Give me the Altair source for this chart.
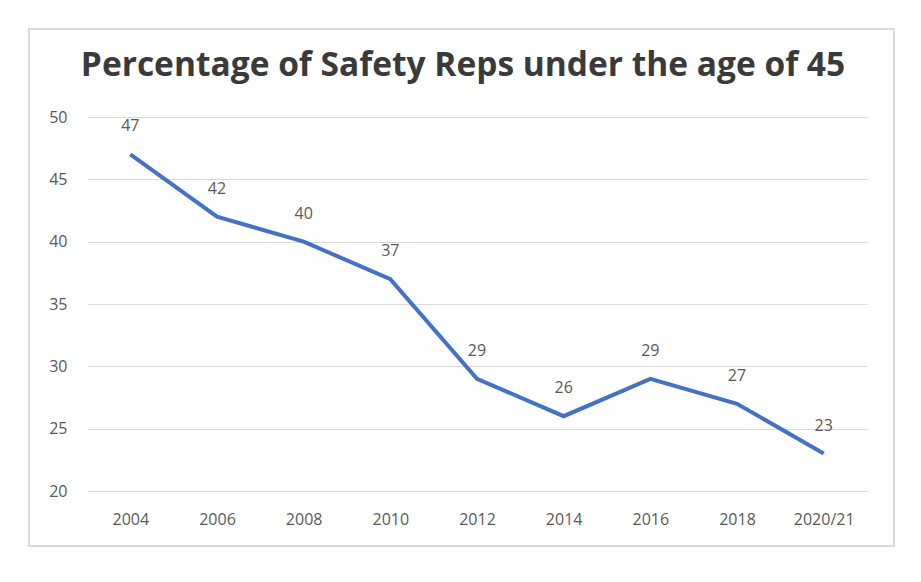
import altair as alt
import pandas as pd

years = ["2004", "2006", "2008", "2010", "2012", "2014", "2016", "2018", "2020/21"]
pct = [47, 42, 40, 37, 29, 26, 29, 27, 23]

df = pd.DataFrame({"year": years, "pct": pct})

GREY = "#595959"

x = alt.X(
    "year:N",
    sort=years,
    title=None,
    scale=alt.Scale(paddingInner=0, paddingOuter=0.5),
    axis=alt.Axis(labelAngle=0, labelFontSize=16, labelColor=GREY, labelPadding=20,
                  ticks=False, domain=False, labelFont="Open Sans"),
)
y = alt.Y(
    "pct:Q",
    title=None,
    scale=alt.Scale(domain=[20, 50], nice=False),
    axis=alt.Axis(values=[20, 25, 30, 35, 40, 45, 50], labelFontSize=16, labelColor=GREY,
                  labelPadding=20, ticks=False, domain=False, gridColor="#d9d9d9",
                  labelFont="Open Sans"),
)

# frame around the whole chart
frame = alt.Chart(df).mark_rect(fill=None, stroke="#d9d9d9", strokeWidth=1.5, clip=False).encode(
    x=alt.value(-58), x2=alt.value(807), y=alt.value(-88), y2=alt.value(429)
)

line = alt.Chart(df).mark_line(color="#4472C4", strokeWidth=4).encode(x=x, y=y)

labels = alt.Chart(df).mark_text(dy=-28, fontSize=16, color=GREY, font="Open Sans").encode(
    x=x, y=y, text="pct:Q"
)

chart = (
    alt.layer(frame, line, labels)
    .properties(
        width=780,
        height=374,
        autosize=alt.AutoSizeParams(type="none"),
        padding={"left": 79, "top": 109, "right": 34, "bottom": 60},
        title=alt.Title(
            "Percentage of Safety Reps under the age of 45",
            fontSize=33.5,
            font="Open Sans",
            fontWeight="bold",
            color="#3a3a3a",
            anchor="middle",
            dx=-14,
            offset=-55,
        ),
    )
    .configure_view(stroke=None)
)

chart.save("out.html", embed_options={"renderer": "svg", "actions": False})
